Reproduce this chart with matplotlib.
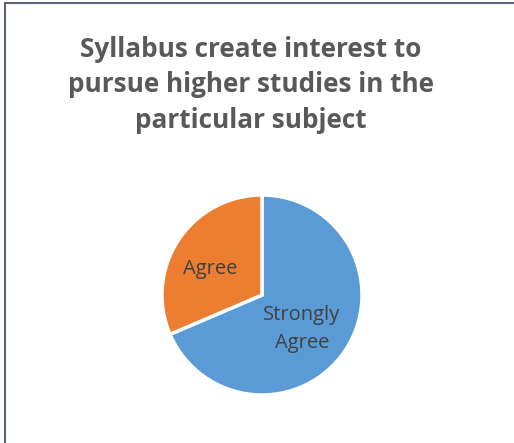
import matplotlib.pyplot as plt
from matplotlib.lines import Line2D

labels = ['Strongly\nAgree', 'Agree']
values = [48, 22]
colors = ['#5b9bd5', '#ed7d31']
title = 'Syllabus create interest to\npursue higher studies in the\nparticular subject'

plt.rcParams['font.family'] = ['Open Sans', 'DejaVu Sans']

fig = plt.figure(figsize=(5.14, 4.43), dpi=100)
fig.patch.set_facecolor('white')

# pie centre ~ (262, 295) px, radius ~100 px
ax = fig.add_axes([(262 - 100) / 514, (443 - 295 - 100) / 443, 200 / 514, 200 / 443])
wedges, texts = ax.pie(values, labels=labels, colors=colors, startangle=90,
                       counterclock=False, labeldistance=0.55,
                       wedgeprops=dict(edgecolor='white', linewidth=2.5),
                       textprops=dict(color='#404040', fontsize=14.5, ha='center',
                                      va='center', linespacing=1.5))
ax.set_xlim(-1.0, 1.0)
ax.set_ylim(-1.0, 1.0)
ax.set_aspect('equal')
texts[1].set_position((-0.52, 0.26))
texts[0].set_position((0.40, -0.34))

fig.text(0.488, 1 - 85 / 443, title, ha='center', va='center', fontsize=18.8,
         fontweight='bold', color='#595959', linespacing=1.4)

# chart-area border (only left and top edges visible)
fig.add_artist(Line2D([5 / 514, 5 / 514], [0, 1 - 3 / 443], transform=fig.transFigure,
                      color='#5a6478', lw=1.5))
fig.add_artist(Line2D([5 / 514, 1], [1 - 3 / 443, 1 - 3 / 443], transform=fig.transFigure,
                      color='#5a6478', lw=1.5))

fig.savefig('out.png', dpi=100)
